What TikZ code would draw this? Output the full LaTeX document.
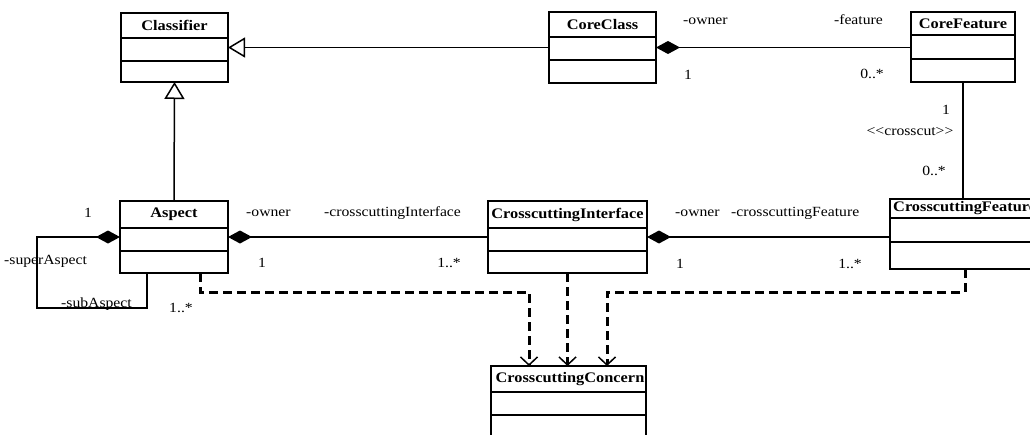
\documentclass[tikz,border=0pt]{standalone}
\usepackage{fontspec}
\setmainfont{Liberation Serif}[FakeStretch=1.12]
\usetikzlibrary{arrows.meta}

% one UML class: name, x1, y1, x2, y2, divider 1, divider 2, title
\newcommand{\umlclass}[8]{%
  \node[classbox, minimum width={#4-#2}, minimum height={#5-#3}] (#1) at ({(#2+#4)/2},{(#3+#5)/2}) {};
  \draw[boxline] (#2,#6) -- (#4,#6);
  \draw[boxline] (#2,#7) -- (#4,#7);
  \node[classname] (#1-title) at ({(#2+#4)/2},{(#3+#6)/2}) {#8};
}

\tikzset{
  classbox/.style={draw, line width=1.8pt, rectangle, inner sep=0pt, outer sep=0pt, fill=white},
  boxline/.style={line width=1.4pt},
  classname/.style={font=\fontsize{14.6}{16}\selectfont\bfseries, inner sep=0pt},
  lbl/.style={font=\fontsize{14}{16}\selectfont, inner sep=0pt},
  assoc/.style={line width=1.5pt},
  gen/.style={line width=1.5pt, -{Triangle[open, length=17pt, width=20pt, line width=1.5pt, fill=white]}},
  comp/.style={line width=1.5pt, {Diamond[length=24pt, width=13pt]}-},
  dep/.style={line width=3pt, dash pattern=on 9pt off 5pt,
    -{Straight Barb[length=8pt, width=17pt, line width=1.5pt]}},
}

\begin{document}
\begin{tikzpicture}[x=1pt, y=-1pt]
\useasboundingbox (0,0) rectangle (1030,434);

% classes
\umlclass{Classifier}{121}{13}{228}{82}{38}{61}{Classifier}
\umlclass{CoreClass}{549}{12}{656}{83}{37}{60}{CoreClass}
\umlclass{CoreFeature}{911}{12}{1015}{82}{35}{59}{CoreFeature}
\umlclass{Aspect}{120}{201}{228}{273}{228}{251}{Aspect}
\umlclass{Interface}{488}{201}{647}{273}{228}{251}{CrosscuttingInterface}
% right edge runs off the page
\node[classbox, minimum width=160, minimum height=70] (Feature) at (970,234) {};
\draw[boxline] (890,218) -- (1050,218);
\draw[boxline] (890,242) -- (1050,242);
\node[classname, anchor=west] (Feature-title) at (893,208.5) {CrosscuttingFeature};
% bottom edge runs off the page
\node[classbox, minimum width=155, minimum height=84] (Concern) at (568.5,408) {};
\draw[boxline] (491,392) -- (646,392);
\draw[boxline] (491,415) -- (646,415);
\node[classname] (Concern-title) at (570,379) {CrosscuttingConcern};

% generalisations
\draw[gen] (CoreClass.west) -- (Classifier.east);
\draw[gen] (Aspect.north) -- (Classifier.south);

% CoreClass owns CoreFeature
\draw[comp] (CoreClass.east) -- (CoreClass.east -| CoreFeature.west);
\node[lbl, anchor=west] (l1) at (683,21) {-owner};
\node[lbl, anchor=east] (l2) at (883,20) {-feature};
\node[lbl] (l3) at (688,75) {1};
\node[lbl, anchor=east] (l4) at (884,74) {0..*};

% crosscut between CoreFeature and CrosscuttingFeature
\draw[assoc] (CoreFeature.south) -- (CoreFeature.south |- Feature.north);
\node[lbl] (l5) at (946,110) {1};
\node[lbl] (l6) at (910,132) {<\kern0pt<crosscut>\kern0pt>};
\node[lbl] (l7) at (934,171) {0..*};

% Aspect self-composition
\coordinate (loopL) at (37,308);
\draw[comp] (Aspect.west) -| (loopL) -| ([xshift=-27pt]Aspect.south);
\node[lbl] (l8) at (88,213) {1};
\node[lbl, anchor=west] (l9) at (4,261) {-superAspect};
\node[lbl, anchor=west] (l10) at (61,304) {-subAspect};
\node[lbl] (l11) at (181,308) {1..*};

% Aspect owns CrosscuttingInterface
\draw[comp] (Aspect.east) -- (Interface.west);
\node[lbl, anchor=west] (l12) at (246,213) {-owner};
\node[lbl, anchor=west] (l13) at (324,213) {-crosscuttingInterface};
\node[lbl] (l14) at (262,263) {1};
\node[lbl, anchor=east] (l15) at (461,263) {1..*};

% CrosscuttingInterface owns CrosscuttingFeature
\draw[comp] (Interface.east) -- (Interface.east -| Feature.west);
\node[lbl, anchor=west] (l16) at (675,213) {-owner};
\node[lbl, anchor=west] (l17) at (731,213) {-crosscuttingFeature};
\node[lbl] (l18) at (680,264) {1};
\node[lbl, anchor=east] (l19) at (862,264) {1..*};

% dependencies on CrosscuttingConcern
\coordinate (bendL) at (529,292);
\coordinate (bendR) at (607,292);
\draw[dep] ([xshift=26pt]Aspect.south) |- (bendL) -- (bendL |- Concern.north);
\draw[dep] (Interface.south) -- (Interface.south |- Concern.north);
\draw[dep] ([xshift=75pt]Feature.south west) |- (bendR) -- (bendR |- Concern.north);
\end{tikzpicture}
\end{document}
